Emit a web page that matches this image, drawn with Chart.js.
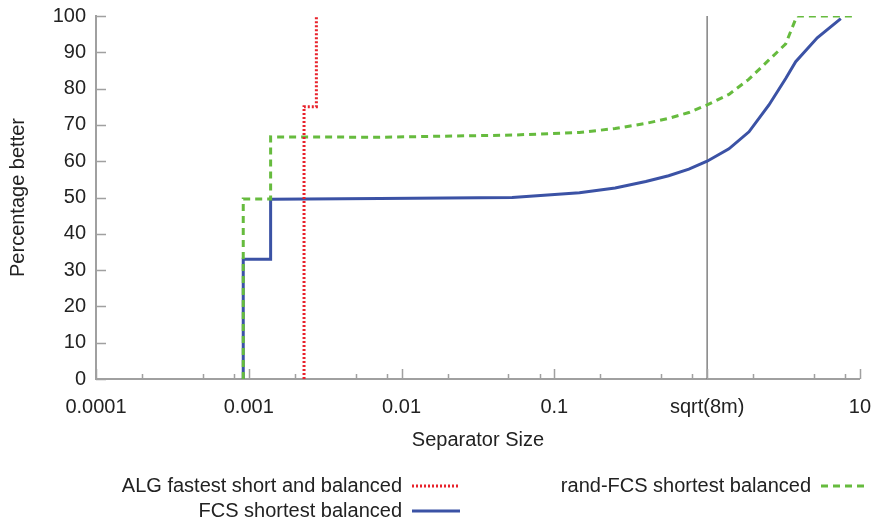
<!DOCTYPE html>
<html>
<head>
<meta charset="utf-8">
<script src="https://cdn.jsdelivr.net/npm/chart.js@4"></script>
<style>
  html, body { margin: 0; padding: 0; background: #fff; }
  #wrap { width: 879px; height: 523px; position: relative; }
</style>
</head>
<body>
<div id="wrap"><canvas id="grafico" width="879" height="523"></canvas></div>
<script>
// ejes
const xTickVals = [0.0001, 0.001, 0.01, 0.1, 1, 10];
const xTickLabels = ['0.0001', '0.001', '0.01', '0.1', 'sqrt(8m)', '10'];
const xMinorMult = [2, 5, 8];
const yMin = 0, yMax = 100, yStep = 10;

// ALG fastest short and balanced
const algX = [0.0023, 0.0023, 0.00277, 0.00277];
const algY = [0, 75, 75, 100];

// FCS shortest balanced
const fcsX = [0.00092, 0.00092, 0.00139, 0.00139, 0.0072, 0.053, 0.146, 0.25, 0.397, 0.56, 0.76, 1.0, 1.39, 1.88, 2.54, 3.27, 3.8, 5.26, 7.5];
const fcsY = [0, 33, 33, 49.5, 49.7, 50.0, 51.3, 52.6, 54.4, 56.0, 57.8, 60.0, 63.4, 68.1, 75.5, 82.8, 87.4, 94.0, 99.3];

// rand-FCS shortest balanced
const randX = [0.00092, 0.00092, 0.00139, 0.00139, 0.0072, 0.053, 0.146, 0.25, 0.397, 0.56, 0.76, 1.0, 1.39, 1.88, 2.54, 3.27, 3.87, 9.4];
const randY = [0, 49.6, 49.6, 66.7, 66.6, 67.2, 67.9, 69.0, 70.4, 71.8, 73.4, 75.5, 78.4, 82.6, 87.9, 92.3, 100, 100];

// linea vertical sqrt(8m)
const refX = [1, 1];
const refY = [0, 100];

const FONT = "'Liberation Sans', Arial, sans-serif";
const TXT = '#222';
const AXIS = '#a0a0a0';

function puntos(xs, ys) {
    return xs.map((x, i) => ({ x: x, y: ys[i] }));
}

// ticks hacia adentro como en gnuplot
const ticksAdentro = {
    id: 'ticksAdentro',
    afterDatasetsDraw(chart) {
        const ctx = chart.ctx;
        const xs = chart.scales.x, ys = chart.scales.y;
        const a = chart.chartArea;
        ctx.save();
        ctx.strokeStyle = AXIS;
        ctx.lineWidth = 1.5;
        ctx.beginPath();
        for (let v = yMin; v <= yMax; v += yStep) {
            const py = Math.round(ys.getPixelForValue(v)) + 0.5;
            ctx.moveTo(a.left, py);
            ctx.lineTo(a.left + 10, py);
        }
        xTickVals.forEach(v => {
            const px = Math.round(xs.getPixelForValue(v)) + 0.5;
            ctx.moveTo(px, a.bottom);
            ctx.lineTo(px, a.bottom - 10);
            if (v < 10) {
                xMinorMult.forEach(m => {
                    const pm = Math.round(xs.getPixelForValue(v * m)) + 0.5;
                    ctx.moveTo(pm, a.bottom);
                    ctx.lineTo(pm, a.bottom - 5);
                });
            }
        });
        ctx.stroke();
        ctx.restore();
    }
};

// leyenda tipo gnuplot: texto a la derecha, muestra de linea despues
const leyenda = {
    id: 'leyenda',
    afterDraw(chart) {
        const ctx = chart.ctx;
        const items = [
            { ds: 0, col: 0, row: 0 },
            { ds: 2, col: 0, row: 1 },
            { ds: 1, col: 1, row: 0 }
        ];
        const colX = [402, 811];
        const rowY = [486, 511];
        ctx.save();
        ctx.font = '20px ' + FONT;
        ctx.fillStyle = TXT;
        ctx.textAlign = 'right';
        ctx.textBaseline = 'middle';
        items.forEach(it => {
            const ds = chart.data.datasets[it.ds];
            const x = colX[it.col], y = rowY[it.row];
            ctx.fillText(ds.label, x, y);
            ctx.beginPath();
            ctx.strokeStyle = ds.borderColor;
            ctx.lineWidth = ds.borderWidth;
            ctx.setLineDash(ds.borderDash || []);
            ctx.moveTo(x + 10, y);
            ctx.lineTo(x + 58, y);
            ctx.stroke();
        });
        ctx.restore();
    }
};

const ctx = document.getElementById('grafico').getContext('2d');

new Chart(ctx, {
    type: 'line',
    data: {
        datasets: [
            {
                label: 'ALG fastest short and balanced',
                data: puntos(algX, algY),
                borderColor: '#e8222b',
                borderWidth: 3,
                borderDash: [2, 2],
                pointRadius: 0,
                tension: 0
            },
            {
                label: 'rand-FCS shortest balanced',
                data: puntos(randX, randY),
                borderColor: '#66bb3e',
                borderWidth: 3,
                borderDash: [7, 5],
                pointRadius: 0,
                tension: 0
            },
            {
                label: 'FCS shortest balanced',
                data: puntos(fcsX, fcsY),
                borderColor: '#3b52a5',
                borderWidth: 3,
                pointRadius: 0,
                tension: 0
            },
            {
                label: 'sqrt(8m)',
                data: puntos(refX, refY),
                borderColor: '#444',
                borderWidth: 1,
                pointRadius: 0,
                tension: 0
            }
        ]
    },
    options: {
        responsive: false,
        animation: false,
        layout: { padding: { left: 0, right: 9, top: 16, bottom: 74 } },
        plugins: {
            legend: { display: false },
            tooltip: { enabled: false }
        },
        scales: {
            x: {
                type: 'logarithmic',
                min: 0.0001,
                max: 10,
                afterBuildTicks: s => { s.ticks = xTickVals.map(v => ({ value: v })); },
                afterFit: s => { s.height = 70; },
                grid: { display: false },
                border: { display: true, color: AXIS, width: 2 },
                ticks: {
                    autoSkip: false,
                    maxRotation: 0,
                    padding: 8,
                    color: TXT,
                    font: { family: FONT, size: 20 },
                    callback: (v, i) => xTickLabels[i]
                },
                title: {
                    display: true,
                    text: 'Separator Size',
                    color: TXT,
                    font: { family: FONT, size: 20 },
                    padding: { top: 0, bottom: -3 }
                }
            },
            y: {
                min: yMin,
                max: yMax,
                afterFit: s => { s.width = 96; },
                grid: {
                    display: true,
                    drawOnChartArea: false,
                    drawTicks: true,
                    tickLength: 10,
                    color: 'rgba(0,0,0,0)'
                },
                border: { display: true, color: AXIS, width: 2 },
                ticks: {
                    stepSize: yStep,
                    padding: 0,
                    color: TXT,
                    font: { family: FONT, size: 20 }
                },
                title: {
                    display: true,
                    text: 'Percentage better',
                    color: TXT,
                    font: { family: FONT, size: 20 },
                    padding: { top: 6, bottom: 0 }
                }
            }
        }
    },
    plugins: [ticksAdentro, leyenda]
});
</script>
</body>
</html>
